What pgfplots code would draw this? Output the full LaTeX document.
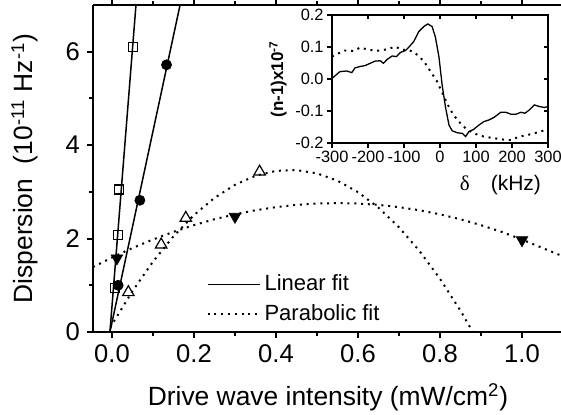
\documentclass[border=0pt]{standalone}
\usepackage{pgfplots}
\pgfplotsset{compat=1.18}
\usepackage{fontspec}
\setmainfont{Liberation Sans}
\newfontfamily\seriffont{Liberation Serif}

\tikzset{
  fitline/.style={black, line width=0.75pt},
  fitdot/.style={black, line width=1pt, dash pattern=on 1pt off 2.4pt},
}

\begin{document}
\begin{tikzpicture}
% main axis
\begin{axis}[
  name=main, at={(0,0)}, anchor=south west,
  scale only axis, width=235pt, height=163.5pt,
  xmin=-0.0463, xmax=1.1, ymin=0, ymax=7,
  axis x line*=box, axis y line*=left,
  axis line style={line width=1.4pt},
  tick align=outside, major tick length=3pt, minor tick length=2pt,
  every tick/.style={black, line width=1pt},
  xtick={0,0.2,0.4,0.6,0.8,1.0}, minor x tick num=1,
  ytick={0,2,4,6}, minor y tick num=1,
  /pgf/number format/assume math mode=true,
  ticklabel style={font=\fontsize{12.8}{14}\selectfont},
  xticklabel style={/pgf/number format/fixed, /pgf/number format/fixed zerofill, /pgf/number format/precision=1},
  xlabel={Drive wave intensity (mW/cm\textsuperscript{2})},
  ylabel={Dispersion\ \ (10\textsuperscript{-11} Hz\textsuperscript{-1})},
  label style={font=\fontsize{13.2}{15}\selectfont},
  xlabel style={at={(axis description cs:0.5,-0.2)}, anchor=center},
  ylabel style={at={(axis description cs:-0.145,0.5)}, anchor=center},
  legend style={at={(rel axis cs:0.228,0.2)}, anchor=north west, draw=none, fill=none,
    font=\fontsize{11}{13}\selectfont, row sep=1.5pt},
  legend cell align=left,
  legend image code/.code={\draw[#1] (0pt,0pt) -- (26pt,0pt);},
]
\addlegendimage{fitline}
\addlegendentry{Linear fit}
\addlegendimage{fitdot}
\addlegendentry{Parabolic fit}

% linear fits
\addplot[fitline, forget plot] coordinates {(-0.005,0) (0.0585,7)};
\addplot[fitline, forget plot] coordinates {(-0.005,0) (0.166,7)};

% parabolic fits
\addplot[fitdot, forget plot] coordinates {
  (-0.0463,1.39) (0.0,1.595) (0.05,1.798) (0.1,1.98) (0.15,2.144) (0.2,2.288)
  (0.25,2.414) (0.3,2.519) (0.35,2.606) (0.4,2.673) (0.45,2.722) (0.5,2.750)
  (0.55,2.76) (0.6,2.750) (0.65,2.722) (0.7,2.673) (0.75,2.606) (0.8,2.519)
  (0.85,2.414) (0.9,2.288) (0.95,2.144) (1.0,1.98) (1.05,1.798) (1.1,1.62)
};
\addplot[fitdot, forget plot] coordinates {
  (-0.012,-0.03) (0.0,0.16) (0.05,0.876) (0.1,1.506) (0.15,2.049) (0.2,2.504)
  (0.25,2.871) (0.3,3.151) (0.35,3.344) (0.4,3.449) (0.45,3.466) (0.5,3.396)
  (0.55,3.239) (0.6,2.994) (0.65,2.661) (0.7,2.241) (0.75,1.734) (0.8,1.139)
  (0.85,0.456) (0.882,-0.03)
};

% data
\addplot[only marks, mark=square, mark size=2.25pt, mark options={fill=white, line width=0.6pt}, forget plot]
  coordinates {(0.007,0.94) (0.015,2.08) (0.018,3.05) (0.051,6.1)};
\addplot[only marks, mark=*, mark size=2.5pt, mark options={fill=black}, forget plot]
  coordinates {(0.015,1.0) (0.068,2.82) (0.133,5.72)};
\addplot[only marks, mark=triangle*, mark size=3.3pt, mark options={fill=black, rotate=180}, forget plot]
  coordinates {(0.012,1.58) (0.30,2.47) (1.0,1.97)};
\addplot[only marks, mark=triangle, mark size=3.3pt, mark options={fill=white, line width=0.6pt}, forget plot]
  coordinates {(0.04,0.85) (0.12,1.87) (0.18,2.44) (0.36,3.43)};
\end{axis}

% inset
\begin{axis}[
  at={(119.5pt,94.5pt)}, anchor=south west,
  scale only axis, width=108pt, height=64pt,
  xmin=-300, xmax=300, ymin=-0.2, ymax=0.2,
  xtick={-300,-200,-100,0,100,200,300},
  ytick={-0.2,-0.1,0,0.1,0.2},
  tick align=outside, tick pos=left, major tick length=2.5pt,
  every tick/.style={black, line width=0.8pt},
  axis line style={line width=1pt},
  /pgf/number format/assume math mode=true,
  ticklabel style={font=\fontsize{8.2}{10}\selectfont},
  xticklabel style={inner sep=1.5pt},
  yticklabel style={/pgf/number format/fixed, /pgf/number format/fixed zerofill, /pgf/number format/precision=1, inner sep=1.5pt},
  xlabel={{\seriffont δ}\quad(kHz)},
  xlabel style={at={(axis description cs:1,-0.33)}, anchor=east, font=\fontsize{10.5}{12}\selectfont},
  ylabel={(n-1)x10\textsuperscript{-7}},
  ylabel style={at={(axis description cs:-0.25,0.5)}, anchor=center, font=\bfseries\fontsize{8.5}{10}\selectfont},
]
\addplot[black, line width=0.65pt] coordinates {
  (-300,0.002) (-278,0.023) (-259,0.025) (-245,0.020) (-236,0.035) (-222,0.039)
  (-208,0.042) (-194,0.049) (-180,0.056) (-166,0.057) (-157,0.049) (-147,0.061)
  (-133,0.072) (-121,0.070) (-110,0.083) (-96,0.089) (-87,0.099) (-73,0.117)
  (-59,0.148) (-45,0.164) (-34,0.172) (-22,0.164) (-13,0.132) (-3,0.070)
  (6,-0.019) (15,-0.086) (25,-0.144) (34,-0.162) (48,-0.168) (62,-0.170)
  (71,-0.180) (80,-0.165) (94,-0.157) (108,-0.144) (122,-0.133) (136,-0.128)
  (150,-0.120) (169,-0.104) (183,-0.104) (197,-0.110) (211,-0.110) (225,-0.104)
  (236,-0.107) (248,-0.097) (262,-0.081) (276,-0.086) (290,-0.089) (300,-0.086)
};
\addplot[black, line width=1pt, dash pattern=on 1pt off 2.4pt] coordinates {
  (-300,0.070) (-282,0.080) (-264,0.089) (-240,0.088) (-222,0.098) (-203,0.093)
  (-185,0.089) (-166,0.089) (-147,0.093) (-124,0.101) (-106,0.091) (-87,0.091)
  (-68,0.080) (-45,0.056) (-26,0.023) (-8,-0.008) (11,-0.055) (29,-0.097)
  (48,-0.128) (71,-0.154) (94,-0.170) (122,-0.180) (150,-0.185) (174,-0.189)
  (197,-0.191) (220,-0.180) (243,-0.175) (267,-0.168) (300,-0.157)
};
\end{axis}

% inward ticks on the inset's top and right sides
\begin{axis}[
  at={(119.5pt,94.5pt)}, anchor=south west,
  scale only axis, width=108pt, height=64pt,
  xmin=-300, xmax=300, ymin=-0.2, ymax=0.2,
  xtick={-300,-200,-100,0,100,200,300},
  ytick={-0.2,-0.1,0,0.1,0.2},
  tick align=inside, xtick pos=right, ytick pos=right, major tick length=2pt,
  every tick/.style={black, line width=0.8pt},
  axis line style={line width=1pt},
  xticklabels={}, yticklabels={},
]
\end{axis}

\pgfresetboundingbox
\path (-46.5pt,-41pt) rectangle (234pt,166pt);
\end{tikzpicture}
\end{document}
